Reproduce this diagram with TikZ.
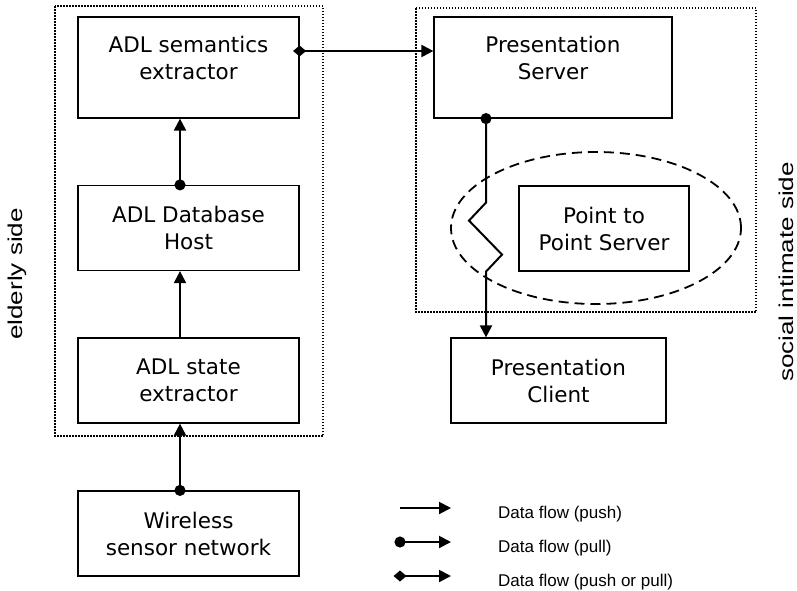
\documentclass[tikz,border=0pt]{standalone}
\usepackage{fontspec}
\setmainfont{DejaVu Sans}
\newfontfamily\legendfont{Liberation Sans}
\usetikzlibrary{arrows.meta,shapes.geometric}

\begin{document}
\begin{tikzpicture}
	[%%%%%%%%%%%%%%%%%%%%%%%%%%%%%%
	x=1pt, y=-1pt,
	box/.style={rectangle,draw=black,line width=1.2pt,inner sep=0pt,minimum width=221pt,minimum height=85pt,align=center,font=\fontsize{21.5}{27}\selectfont},
	topbox/.style={box,minimum height=101pt,text depth=20pt},
	group/.style={draw=black,line width=1.5pt,dash pattern=on 1.5pt off 1.5pt},
	push/.style={line width=2pt,-{Triangle[length=12pt,width=12pt]}},
	pull/.style={push,{Circle[length=11pt]}-{Triangle[length=12pt,width=12pt]},shorten <=-5.5pt},
	pushpull/.style={push,{Diamond[length=13pt,width=11pt]}-{Triangle[length=12pt,width=12pt]},shorten <=-6.5pt},
	side/.style={rotate=90,inner sep=0pt,font=\legendfont\fontsize{20}{24}\selectfont},
	legend/.style={anchor=base west,inner sep=0pt,font=\legendfont\fontsize{17}{20}\selectfont},
	]%%%%%%%%%%%%%%%%%%%%%%%%%%%%%%
	
	\useasboundingbox (0,0) rectangle (797,590);
	
	\draw[group] (55,6) rectangle (323,436);
	\draw[group] (416,8) rectangle (756,312);
	
	\node[ellipse,draw=black,line width=1.8pt,dash pattern=on 10pt off 6pt,minimum width=290pt,minimum height=152pt] (zone) at (596,228) {};
	
	\node[topbox] (sem) at (188.5,67.5) {ADL semantics\\extractor};
	\node[box] (host) at (188.5,228) {ADL Database\\Host};
	\node[box] (state) at (188.5,380.5) {ADL state\\extractor};
	\node[box] (wsn) at (188.5,533.5) {Wireless\\sensor network};
	\node[topbox,minimum width=238pt] (pserver) at (553,67.5) {Presentation\\Server};
	\node[box,minimum width=170pt] (p2p) at (604,228.5) {Point to\\Point Server};
	\node[box,minimum width=215pt] (pclient) at (558.5,380.5) {Presentation\\Client};
	
	\node[side] (elderly) at (17,274) {\scalebox{1.3}[1]{elderly side}};
	\node[side] (social) at (786,272) {\scalebox{1.3}[1]{social intimate side}};
	
	\draw[pull] ([xshift=-8.5pt]wsn.north) -- ([xshift=-8.5pt]state.south);
	\draw[push] ([xshift=-8.5pt]state.north) -- ([xshift=-8.5pt]host.south);
	\draw[pull] ([xshift=-8.5pt]host.north) -- ([xshift=-8.5pt]sem.south);
	\draw[pushpull] ([yshift=16.5pt]sem.east) coordinate (d) -- (d -| pserver.west);
	\draw[pull] ([xshift=-67pt]pserver.south) -- ++(0,84) -- ++(-17,18) -- ++(33,34) -- ++(-16,17) coordinate (z) -- (z |- pclient.north);
	
	% legend
	\foreach \y/\st/\txt [count=\i] in {508/push/push,542/pull/pull,576/pushpull/push or pull}{
		\coordinate (k\i) at (400,\y);
		\coordinate (t\i) at (451,\y);
		\draw[\st] (k\i) -- (t\i);
		\node[legend] (l\i) at (498,\y+10) {Data flow (\txt)};
	}
\end{tikzpicture}
\end{document}
